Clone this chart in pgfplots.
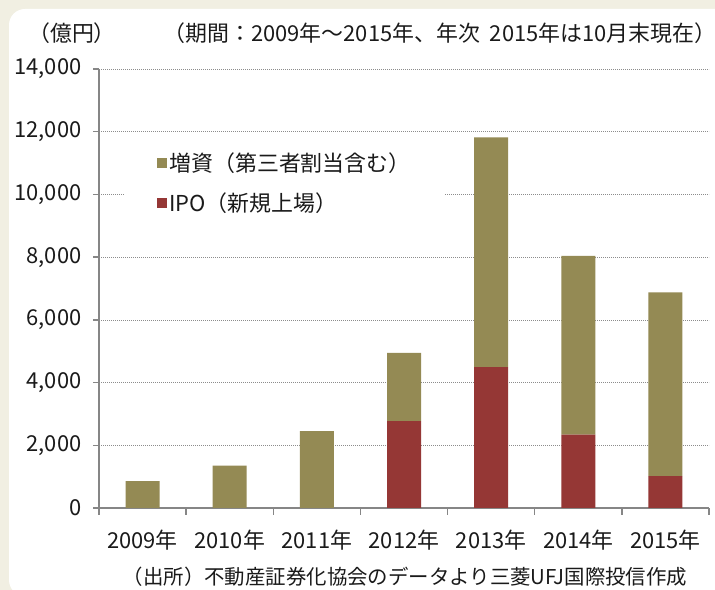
\documentclass[border=0pt]{standalone}
\usepackage{fontspec}
\setmainfont{Noto Sans CJK JP}
\usepackage{pgfplots}
\pgfplotsset{compat=1.18}
\definecolor{zoshi}{HTML}{948A54}
\definecolor{ipored}{HTML}{953735}
\definecolor{axgray}{HTML}{868686}
\definecolor{bgbeige}{HTML}{F1EFE2}
\definecolor{txt}{HTML}{1A1A1A}
\begin{document}
\begin{tikzpicture}[x=1bp,y=1bp]
\useasboundingbox (0,0) rectangle (715,590);
\fill[bgbeige] (0,0) rectangle (715,590);
\fill[white, rounded corners=16bp] (9,-6) rectangle (735,581);
\begin{axis}[
  at={(99bp,82bp)}, anchor=south west,
  scale only axis, width=610bp, height=439bp,
  ybar stacked, bar width=34bp,
  xmin=-0.5, xmax=6.5, ymin=0, ymax=14000,
  xtick={0,...,6},
  xticklabels={2009年,2010年,2011年,2012年,2013年,2014年,2015年},
  major x tick style={draw=none},
  minor xtick={-0.5,0.5,...,6.5},
  ytick={0,2000,...,14000},
  axis lines*=left,
  axis line style={axgray, line width=2bp},
  tick style={axgray, line width=1.5bp},
  tick align=outside, major tick length=6bp, minor tick length=7bp,
  ymajorgrids, grid style={black!45, dash pattern=on 1bp off 1bp, line width=0.6bp},
  /pgf/number format/assume math mode=true,
  /pgf/number format/1000 sep={,},
  scaled y ticks=false,
  ticklabel style={font=\fontsize{22}{26}\selectfont, text=txt},
  yticklabel style={xshift=-8bp},
  xticklabel style={yshift=-12bp},
  reverse legend,
  legend cell align=left,
  legend style={at={(0.043,0.828)}, anchor=north west, fill=white, draw=none,
    font=\fontsize{22}{26}\selectfont, text=txt, inner xsep=32bp, inner ysep=6bp,
    row sep=16bp},
]
\addplot[fill=ipored, draw=none,
  legend image code/.code={\fill[ipored] (0bp,-5bp) rectangle (10bp,5bp);}]
  coordinates {(0,0) (1,0) (2,0) (3,2770) (4,4490) (5,2340) (6,1020)};
\addlegendentry{IPO（新規上場）}
\addplot[fill=zoshi, draw=none,
  legend image code/.code={\fill[zoshi] (0bp,-5bp) rectangle (10bp,5bp);}]
  coordinates {(0,860) (1,1350) (2,2450) (3,2180) (4,7330) (5,5700) (6,5860)};
\addlegendentry{増資（第三者割当含む）}
\end{axis}
\node[font=\fontsize{22}{26}\selectfont, text=txt] at (72,557) {（億円）};
\node[font=\fontsize{22}{26}\selectfont, text=txt] at (440,557) {（期間：2009年～2015年、年次\ \ 2015年は10月末現在）};
\node[font=\fontsize{20.5}{24}\selectfont, text=txt] at (405,13) {（出所）不動産証券化協会のデータより三菱UFJ国際投信作成};
\end{tikzpicture}
\end{document}
